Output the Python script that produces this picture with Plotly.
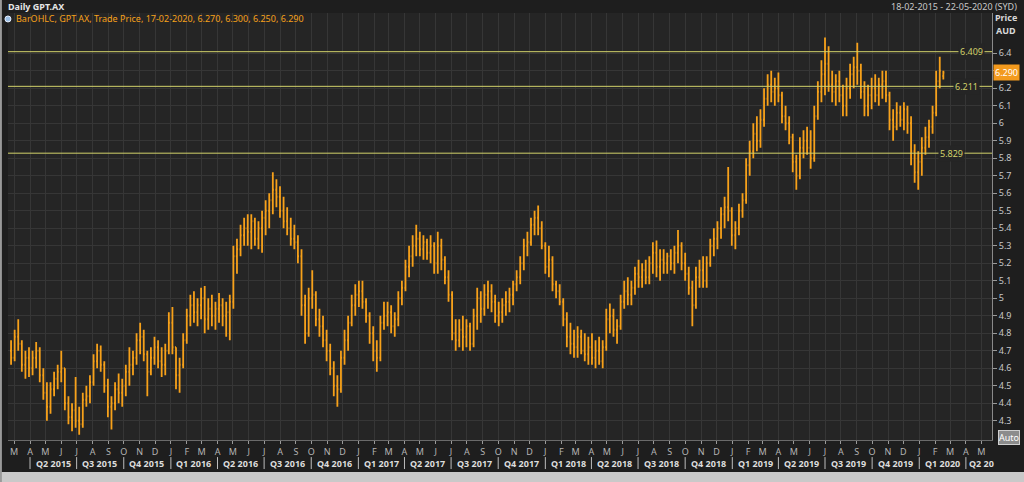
import pandas as pd
import plotly.graph_objects as go

# ---------------- data (weekly OHLC) ----------------
WEEK_START = "2015-02-23"

OPEN = [
    4.70, 4.66, 4.78, 4.74, 4.62, 4.66, 4.60, 4.66, 4.70, 4.56,
    4.46, 4.38, 4.48, 4.54, 4.58, 4.60, 4.40, 4.32, 4.36, 4.30,
    4.28, 4.42, 4.44, 4.52, 4.64, 4.70, 4.62, 4.50, 4.38, 4.40,
    4.48, 4.46, 4.50, 4.58, 4.62, 4.66, 4.76, 4.78, 4.68, 4.58,
    4.66, 4.72, 4.64, 4.62, 4.70, 4.86, 4.72, 4.56, 4.62, 4.76,
    4.90, 4.96, 4.92, 4.96, 5.00, 4.88, 4.94, 4.90, 4.94, 4.96,
    4.90, 4.92, 4.98, 5.24, 5.28, 5.36, 5.40, 5.38, 5.44, 5.34,
    5.40, 5.46, 5.50, 5.56, 5.62, 5.58, 5.50, 5.44, 5.40, 5.34,
    5.32, 5.24, 4.96, 4.80, 5.00, 5.02, 4.88, 4.84, 4.76, 4.70,
    4.60, 4.50, 4.48, 4.66, 4.76, 4.86, 4.96, 5.02, 5.04, 4.98,
    4.90, 4.80, 4.70, 4.66, 4.86, 4.90, 4.92, 4.84, 4.88, 5.00,
    5.06, 5.18, 5.24, 5.30, 5.34, 5.28, 5.32, 5.26, 5.30, 5.20,
    5.30, 5.22, 5.12, 5.02, 4.80, 4.76, 4.82, 4.78, 4.84, 4.74,
    4.90, 5.00, 4.94, 5.02, 5.04, 4.98, 4.90, 4.92, 4.96, 4.98,
    5.02, 5.08, 5.12, 5.20, 5.30, 5.32, 5.42, 5.46, 5.40, 5.30,
    5.18, 5.22, 5.08, 5.04, 4.98, 4.88, 4.78, 4.74, 4.72, 4.78,
    4.70, 4.68, 4.72, 4.66, 4.70, 4.64, 4.72, 4.88, 4.90, 4.82,
    4.84, 4.98, 5.04, 5.02, 5.06, 5.14, 5.12, 5.16, 5.12, 5.20,
    5.26, 5.18, 5.22, 5.20, 5.24, 5.20, 5.26, 5.30, 5.20, 5.14,
    5.06, 4.96, 5.12, 5.16, 5.10, 5.20, 5.30, 5.34, 5.40, 5.48,
    5.52, 5.50, 5.36, 5.40, 5.50, 5.56, 5.76, 5.84, 5.94, 5.90,
    6.02, 6.14, 6.22, 6.18, 6.20, 6.16, 6.04, 6.00, 5.92, 5.78,
    5.70, 5.86, 5.90, 5.86, 5.80, 6.04, 6.18, 6.28, 6.34, 6.22,
    6.18, 6.24, 6.16, 6.10, 6.20, 6.28, 6.32, 6.30, 6.18, 6.10,
    6.16, 6.20, 6.16, 6.22, 6.24, 6.16, 6.02, 5.98, 6.06, 6.02,
    6.08, 6.00, 5.84, 5.72, 5.78, 5.86, 5.92, 5.98, 6.06, 6.24, 6.27,
]

HIGH = [
    4.76, 4.82, 4.88, 4.76, 4.70, 4.72, 4.70, 4.75, 4.72, 4.60,
    4.52, 4.52, 4.58, 4.62, 4.70, 4.60, 4.44, 4.40, 4.55, 4.38,
    4.46, 4.50, 4.56, 4.68, 4.74, 4.73, 4.64, 4.54, 4.44, 4.52,
    4.57, 4.54, 4.62, 4.72, 4.70, 4.80, 4.86, 4.82, 4.70, 4.72,
    4.78, 4.76, 4.72, 4.74, 4.92, 4.95, 4.72, 4.66, 4.80, 4.94,
    5.02, 5.04, 5.00, 5.06, 5.07, 5.00, 5.02, 4.98, 5.03, 5.00,
    4.98, 5.02, 5.30, 5.34, 5.42, 5.46, 5.48, 5.48, 5.46, 5.44,
    5.50, 5.56, 5.60, 5.72, 5.68, 5.64, 5.58, 5.52, 5.46, 5.42,
    5.36, 5.28, 5.02, 5.06, 5.16, 5.04, 4.94, 4.90, 4.82, 4.74,
    4.64, 4.56, 4.70, 4.82, 4.90, 5.02, 5.08, 5.10, 5.10, 5.00,
    4.92, 4.84, 4.76, 4.90, 4.98, 4.98, 4.96, 4.92, 5.04, 5.10,
    5.22, 5.30, 5.36, 5.42, 5.38, 5.36, 5.34, 5.36, 5.32, 5.38,
    5.34, 5.24, 5.16, 5.04, 4.88, 4.88, 4.90, 4.88, 4.86, 4.94,
    5.06, 5.04, 5.08, 5.10, 5.08, 5.02, 4.98, 5.00, 5.04, 5.06,
    5.10, 5.16, 5.24, 5.34, 5.38, 5.46, 5.50, 5.53, 5.44, 5.32,
    5.30, 5.24, 5.10, 5.08, 5.00, 4.92, 4.86, 4.82, 4.84, 4.82,
    4.80, 4.78, 4.80, 4.76, 4.78, 4.76, 4.94, 4.97, 4.94, 4.88,
    5.02, 5.10, 5.12, 5.10, 5.18, 5.22, 5.20, 5.22, 5.24, 5.32,
    5.33, 5.28, 5.28, 5.26, 5.28, 5.30, 5.39, 5.32, 5.26, 5.18,
    5.10, 5.18, 5.22, 5.24, 5.24, 5.34, 5.40, 5.44, 5.52, 5.58,
    5.75, 5.52, 5.44, 5.54, 5.60, 5.80, 5.90, 6.00, 6.04, 6.08,
    6.20, 6.28, 6.30, 6.26, 6.29, 6.18, 6.10, 6.04, 5.94, 5.82,
    5.92, 5.96, 5.98, 5.96, 6.10, 6.24, 6.36, 6.49, 6.44, 6.30,
    6.28, 6.30, 6.22, 6.26, 6.34, 6.38, 6.46, 6.34, 6.24, 6.22,
    6.26, 6.28, 6.26, 6.30, 6.30, 6.18, 6.08, 6.12, 6.10, 6.12,
    6.10, 6.04, 5.88, 5.84, 5.92, 5.98, 6.02, 6.10, 6.30, 6.38, 6.30,
]

LOW = [
    4.62, 4.64, 4.70, 4.58, 4.54, 4.55, 4.56, 4.60, 4.52, 4.42,
    4.30, 4.34, 4.44, 4.48, 4.52, 4.36, 4.28, 4.24, 4.26, 4.22,
    4.26, 4.38, 4.40, 4.50, 4.60, 4.58, 4.46, 4.32, 4.25, 4.36,
    4.40, 4.38, 4.44, 4.50, 4.56, 4.62, 4.68, 4.64, 4.44, 4.56,
    4.62, 4.60, 4.55, 4.56, 4.68, 4.68, 4.48, 4.46, 4.60, 4.74,
    4.84, 4.86, 4.84, 4.88, 4.80, 4.82, 4.84, 4.82, 4.86, 4.84,
    4.78, 4.76, 4.94, 5.14, 5.24, 5.30, 5.30, 5.28, 5.30, 5.28,
    5.26, 5.36, 5.40, 5.48, 5.52, 5.46, 5.40, 5.36, 5.30, 5.28,
    5.20, 4.90, 4.74, 4.78, 4.94, 4.84, 4.78, 4.72, 4.64, 4.56,
    4.44, 4.38, 4.46, 4.62, 4.70, 4.84, 4.90, 4.95, 4.94, 4.86,
    4.74, 4.64, 4.58, 4.64, 4.82, 4.84, 4.80, 4.78, 4.84, 4.96,
    5.04, 5.12, 5.18, 5.24, 5.24, 5.22, 5.22, 5.20, 5.14, 5.14,
    5.16, 5.08, 4.98, 4.76, 4.70, 4.72, 4.70, 4.72, 4.70, 4.72,
    4.82, 4.86, 4.90, 4.94, 4.92, 4.86, 4.84, 4.86, 4.90, 4.92,
    4.96, 5.04, 5.08, 5.16, 5.24, 5.30, 5.36, 5.36, 5.28, 5.14,
    5.12, 5.04, 5.00, 4.96, 4.84, 4.72, 4.68, 4.66, 4.66, 4.68,
    4.64, 4.62, 4.62, 4.60, 4.62, 4.60, 4.70, 4.80, 4.78, 4.74,
    4.82, 4.94, 4.96, 4.96, 5.02, 5.06, 5.06, 5.08, 5.08, 5.14,
    5.12, 5.10, 5.14, 5.14, 5.16, 5.14, 5.20, 5.16, 5.10, 5.02,
    4.84, 4.94, 5.06, 5.06, 5.06, 5.18, 5.24, 5.28, 5.34, 5.40,
    5.44, 5.30, 5.28, 5.36, 5.46, 5.54, 5.70, 5.80, 5.84, 5.86,
    5.98, 6.10, 6.12, 6.10, 6.12, 6.00, 5.96, 5.88, 5.72, 5.62,
    5.68, 5.80, 5.82, 5.74, 5.78, 6.02, 6.12, 6.16, 6.18, 6.12,
    6.10, 6.12, 6.04, 6.04, 6.14, 6.20, 6.22, 6.14, 6.04, 6.04,
    6.08, 6.12, 6.10, 6.14, 6.12, 5.96, 5.90, 5.96, 5.98, 5.96,
    5.94, 5.76, 5.66, 5.62, 5.70, 5.82, 5.86, 5.94, 6.04, 6.20, 6.25,
]

CLOSE = [
    4.66, 4.78, 4.74, 4.62, 4.66, 4.60, 4.66, 4.70, 4.56, 4.46,
    4.38, 4.48, 4.54, 4.58, 4.60, 4.40, 4.32, 4.36, 4.30, 4.28,
    4.42, 4.44, 4.52, 4.64, 4.70, 4.62, 4.50, 4.38, 4.40, 4.48,
    4.46, 4.50, 4.58, 4.62, 4.66, 4.76, 4.78, 4.68, 4.58, 4.66,
    4.72, 4.64, 4.62, 4.70, 4.86, 4.72, 4.56, 4.62, 4.76, 4.90,
    4.96, 4.92, 4.96, 5.00, 4.88, 4.94, 4.90, 4.94, 4.96, 4.90,
    4.92, 4.98, 5.24, 5.28, 5.36, 5.40, 5.38, 5.44, 5.34, 5.40,
    5.46, 5.50, 5.56, 5.62, 5.58, 5.50, 5.44, 5.40, 5.34, 5.32,
    5.24, 4.96, 4.80, 5.00, 5.02, 4.88, 4.84, 4.76, 4.70, 4.60,
    4.50, 4.48, 4.66, 4.76, 4.86, 4.96, 5.02, 5.04, 4.98, 4.90,
    4.80, 4.70, 4.66, 4.86, 4.90, 4.92, 4.84, 4.88, 5.00, 5.06,
    5.18, 5.24, 5.30, 5.34, 5.28, 5.32, 5.26, 5.30, 5.20, 5.30,
    5.22, 5.12, 5.02, 4.80, 4.76, 4.82, 4.78, 4.84, 4.74, 4.90,
    5.00, 4.94, 5.02, 5.04, 4.98, 4.90, 4.92, 4.96, 4.98, 5.02,
    5.08, 5.12, 5.20, 5.30, 5.32, 5.42, 5.46, 5.40, 5.30, 5.18,
    5.22, 5.08, 5.04, 4.98, 4.88, 4.78, 4.74, 4.72, 4.78, 4.70,
    4.68, 4.72, 4.66, 4.70, 4.64, 4.72, 4.88, 4.90, 4.82, 4.84,
    4.98, 5.04, 5.02, 5.06, 5.14, 5.12, 5.16, 5.12, 5.20, 5.26,
    5.18, 5.22, 5.20, 5.24, 5.20, 5.26, 5.30, 5.20, 5.14, 5.06,
    4.96, 5.12, 5.16, 5.10, 5.20, 5.30, 5.34, 5.40, 5.48, 5.52,
    5.50, 5.36, 5.40, 5.50, 5.56, 5.76, 5.84, 5.94, 5.90, 6.02,
    6.14, 6.22, 6.18, 6.20, 6.16, 6.04, 6.00, 5.92, 5.78, 5.70,
    5.86, 5.90, 5.86, 5.80, 6.04, 6.18, 6.28, 6.34, 6.22, 6.18,
    6.24, 6.16, 6.10, 6.20, 6.28, 6.32, 6.30, 6.18, 6.10, 6.16,
    6.20, 6.16, 6.22, 6.24, 6.16, 6.02, 5.98, 6.06, 6.02, 6.08,
    6.00, 5.84, 5.72, 5.78, 5.86, 5.92, 5.98, 6.06, 6.24, 6.30, 6.29,
]

LAST_PRICE = 6.290
LEVELS = [6.409, 6.211, 5.829]
LEVEL_LABELS = ["6.409", "6.211", "5.829"]

# the 6.3 label is hidden behind the last-price tag in the reference
Y_TICKS = [4.3, 4.4, 4.5, 4.6, 4.7, 4.8, 4.9, 5.0, 5.1, 5.2, 5.3,
           5.4, 5.5, 5.6, 5.7, 5.8, 5.9, 6.0, 6.1, 6.2, 6.3, 6.4]
Y_TICK_TEXT = ["4.3", "4.4", "4.5", "4.6", "4.7", "4.8", "4.9", "5", "5.1", "5.2", "5.3",
               "5.4", "5.5", "5.6", "5.7", "5.8", "5.9", "6", "6.1", "6.2", "", "6.4"]

MONTH_LETTERS = ["J", "F", "M", "A", "M", "J", "J", "A", "S", "O", "N", "D"]
QUARTER_LABELS = ["Q2 2015", "Q3 2015", "Q4 2015", "Q1 2016", "Q2 2016", "Q3 2016",
                  "Q4 2016", "Q1 2017", "Q2 2017", "Q3 2017", "Q4 2017", "Q1 2018",
                  "Q2 2018", "Q3 2018", "Q4 2018", "Q1 2019", "Q2 2019", "Q3 2019",
                  "Q4 2019", "Q1 2020", "Q2 20"]

TITLE = "Daily GPT.AX"
DATE_RANGE = "18-02-2015 - 22-05-2020 (SYD)"
LEGEND_TEXT = "BarOHLC, GPT.AX, Trade Price, 17-02-2020, 6.270, 6.300, 6.250, 6.290"
X_RANGE = ["2015-02-17", "2020-05-22"]
Y_RANGE = [4.19, 6.63]

# ---------------- styling ----------------
ORANGE = "#f7a11a"
LEVEL_COLOR = "#d2d26a"
PLOT_BG = "#252525"
PAPER_BG = "#1e1e1e"
GRID = "#363636"
TXT = "#c8c8c8"
FONT = "Noto Sans"

dates = pd.date_range(WEEK_START, periods=len(CLOSE), freq="7D")

fig = go.Figure()
fig.add_trace(go.Ohlc(
    x=dates, open=OPEN, high=HIGH, low=LOW, close=CLOSE,
    increasing=dict(line=dict(color=ORANGE, width=1.8)),
    decreasing=dict(line=dict(color=ORANGE, width=1.8)),
    tickwidth=0.3, hoverinfo="skip", showlegend=False,
))

month_ticks = pd.date_range("2015-03-01", "2020-05-01", freq="MS")
month_text = [MONTH_LETTERS[d.month - 1] for d in month_ticks]

shapes = []
annotations = []

# horizontal level lines with labels
label_x = [0.9787, 0.9736, 0.9588]
for lvl, lab, lx in zip(LEVELS, LEVEL_LABELS, label_x):
    shapes.append(dict(type="line", xref="paper", yref="y", x0=0, x1=1, y0=lvl, y1=lvl,
                       line=dict(color=LEVEL_COLOR, width=1), layer="above"))
    annotations.append(dict(xref="paper", yref="y", x=lx, y=lvl, text=lab, showarrow=False,
                            font=dict(family=FONT, size=9, color=LEVEL_COLOR),
                            bgcolor=PLOT_BG, borderpad=1, xanchor="center", yanchor="middle"))

# last price tag
annotations.append(dict(xref="paper", yref="y", x=1.001, y=LAST_PRICE, text=f"{LAST_PRICE:.3f}",
                        showarrow=False, xanchor="left", yanchor="middle",
                        font=dict(family=FONT, size=9, color="#ffffff"),
                        bgcolor="#f39a1d", borderpad=1))

# quarter labels + separators
q_starts = pd.date_range("2015-04-01", "2020-04-01", freq="QS")
for i, (qs, lab) in enumerate(zip(q_starts, QUARTER_LABELS)):
    shapes.append(dict(type="line", xref="x", yref="paper", x0=qs, x1=qs, y0=-0.040, y1=-0.068,
                       line=dict(color="#bdbdbd", width=1)))
    if i < len(QUARTER_LABELS) - 1:
        mid = qs + pd.Timedelta(days=45)
        annotations.append(dict(xref="x", yref="paper", x=mid, y=-0.054, text=f"<b>{lab}</b>",
                                showarrow=False, xanchor="center", yanchor="middle",
                                font=dict(family=FONT, size=9, color="#dcdcdc")))
    else:
        annotations.append(dict(xref="x", yref="paper", x=qs + pd.Timedelta(days=2), y=-0.054,
                                text=f"<b>{lab}</b>", showarrow=False, xanchor="left",
                                yanchor="middle",
                                font=dict(family=FONT, size=9, color="#dcdcdc")))

# header texts
annotations += [
    dict(xref="paper", yref="paper", x=-0.002, y=1.016, text=f"<b>{TITLE}</b>", showarrow=False,
         xanchor="left", yanchor="middle", font=dict(family=FONT, size=9, color="#e6e6e6")),
    dict(xref="paper", yref="paper", x=1.0274, y=1.016, text=DATE_RANGE, showarrow=False,
         xanchor="right", yanchor="middle", font=dict(family=FONT, size=9, color=TXT)),
    dict(xref="paper", yref="paper", x=0.0061, y=0.986, text=LEGEND_TEXT, showarrow=False,
         xanchor="left", yanchor="middle", font=dict(family=FONT, size=9, color=ORANGE)),
    dict(xref="paper", yref="paper", x=1.0142, y=0.990, text="<b>Price</b>", showarrow=False,
         xanchor="center", yanchor="middle", font=dict(family=FONT, size=9, color="#d8d8d8")),
    dict(xref="paper", yref="paper", x=1.0142, y=0.960, text="<b>AUD</b>", showarrow=False,
         xanchor="center", yanchor="middle", font=dict(family=FONT, size=9, color="#d8d8d8")),
    dict(xref="paper", yref="paper", x=1.0168, y=0.0047, text="Auto", showarrow=False,
         xanchor="center", yanchor="middle", font=dict(family=FONT, size=9, color="#ffffff"),
         bgcolor="#8c8c8c", bordercolor="#d0d0d0", borderwidth=1, borderpad=0),
]

# legend bullet icon
shapes.append(dict(type="circle", xref="paper", yref="paper", x0=-0.0031, x1=0.0030,
                   y0=0.979, y1=0.993, fillcolor="#9cc0e6", line=dict(color="#e8f0ff", width=1)))
# frame pieces
shapes += [
    dict(type="rect", xref="paper", yref="paper", x0=-0.0082, x1=1.033, y0=-0.075, y1=-0.0985,
         fillcolor="#c9c9c9", line=dict(width=0), layer="below"),
    dict(type="rect", xref="paper", yref="paper", x0=-0.0082, x1=-0.0062, y0=-0.0985, y1=1.031,
         fillcolor="#9a9a9a", line=dict(width=0), layer="below"),
]

fig.update_layout(
    width=1024, height=482,
    margin=dict(l=8, r=32, t=13, b=42, pad=0),
    paper_bgcolor=PAPER_BG, plot_bgcolor=PLOT_BG,
    showlegend=False, hovermode=False,
    shapes=shapes, annotations=annotations,
    xaxis=dict(
        type="date", range=X_RANGE, rangeslider=dict(visible=False),
        tickvals=month_ticks, ticktext=month_text,
        tickfont=dict(family=FONT, size=9, color="#b4b4b4"),
        ticks="outside", ticklen=3, tickcolor="#9a9a9a",
        showgrid=True, gridcolor=GRID, gridwidth=1,
        showline=True, linecolor="#6a6a6a", zeroline=False,
        fixedrange=True,
    ),
    yaxis=dict(
        side="right", range=Y_RANGE,
        tickvals=Y_TICKS, ticktext=Y_TICK_TEXT,
        tickfont=dict(family=FONT, size=9, color=TXT),
        ticks="outside", ticklen=4, tickcolor="#9a9a9a",
        showgrid=True, gridcolor=GRID, gridwidth=1,
        showline=True, linecolor="#8a8a8a", zeroline=False,
        fixedrange=True,
    ),
)

fig.write_html(
    "out.html",
    config={"displayModeBar": False, "staticPlot": True},
    post_script="document.body.style.margin='0';document.body.style.overflow='hidden';",
)
